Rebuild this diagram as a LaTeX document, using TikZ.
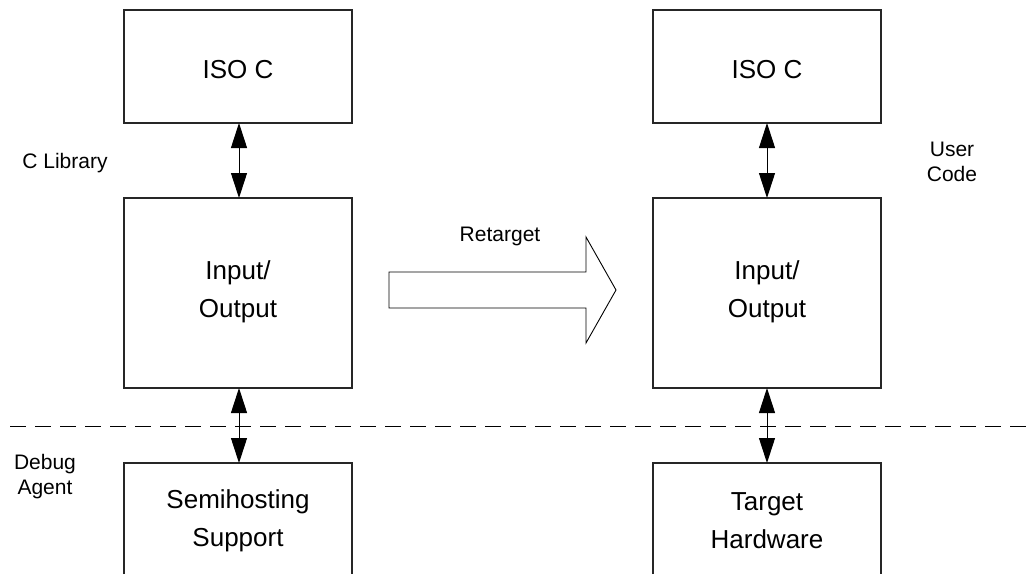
\documentclass[tikz,border=0pt]{standalone}
\usepackage{fontspec}
\setmainfont{Liberation Sans}
\usetikzlibrary{arrows.meta}
\begin{document}
\begin{tikzpicture}[x=1pt,y=-1pt,
  box/.style={draw=black!85,line width=1.1pt,fill=white},
  lbl/.style={font=\fontsize{21}{25}\selectfont,align=center},
  boxtext/.style={font=\fontsize{26}{38}\selectfont,align=center},
  biarrow/.style={line width=1pt,{Triangle[length=25pt,width=16pt]}-{Triangle[length=25pt,width=16pt]}}]
\useasboundingbox (0,0) rectangle (1026,574);
% dashed separator
\coordinate (dl) at (10,426);
\coordinate (dr) at (1026,426);
\draw[line width=1pt,dash pattern=on 16pt off 9pt] (dl) -- (dr);
% left column
\draw[box] (124,10) rectangle (352,123);
\draw[box] (124,198) rectangle (352,388);
\draw[box] (124,574) -- (124,463) -- (352,463) -- (352,574);
\node[boxtext] (isol) at (238,70) {ISO C};
\node[boxtext] (iol) at (238,292) {Input/\\Output};
\node[boxtext] (semi) at (238,521) {Semihosting\\Support};
\coordinate (l1) at (239,123);
\coordinate (l2) at (239,198);
\coordinate (l3) at (239,388);
\coordinate (l4) at (239,463);
\draw[biarrow] (l1) -- (l2);
\draw[biarrow] (l3) -- (l4);
% right column
\draw[box] (653,10) rectangle (881,123);
\draw[box] (653,198) rectangle (881,388);
\draw[box] (653,574) -- (653,463) -- (881,463) -- (881,574);
\node[boxtext] (isor) at (767,70) {ISO C};
\node[boxtext] (ior) at (767,292) {Input/\\Output};
\node[boxtext] (tgt) at (767,521) {Target\\Hardware};
\coordinate (r1) at (767,123);
\coordinate (r2) at (767,198);
\coordinate (r3) at (767,388);
\coordinate (r4) at (767,463);
\draw[biarrow] (r1) -- (r2);
\draw[biarrow] (r3) -- (r4);
% big arrow
\draw[line width=0.9pt,fill=white] (389,272) -- (586,272) -- (586,237) -- (616,290) -- (586,343) -- (586,308) -- (389,308) -- cycle;
\node[lbl] (ret) at (500,236) {Retarget};
% side labels
\node[lbl] (clib) at (65,163) {C Library};
\node[lbl] (user) at (952,162) {User\\Code};
\node[lbl] (dbg) at (45,477) {Debug\\Agent};
\end{tikzpicture}
\end{document}
